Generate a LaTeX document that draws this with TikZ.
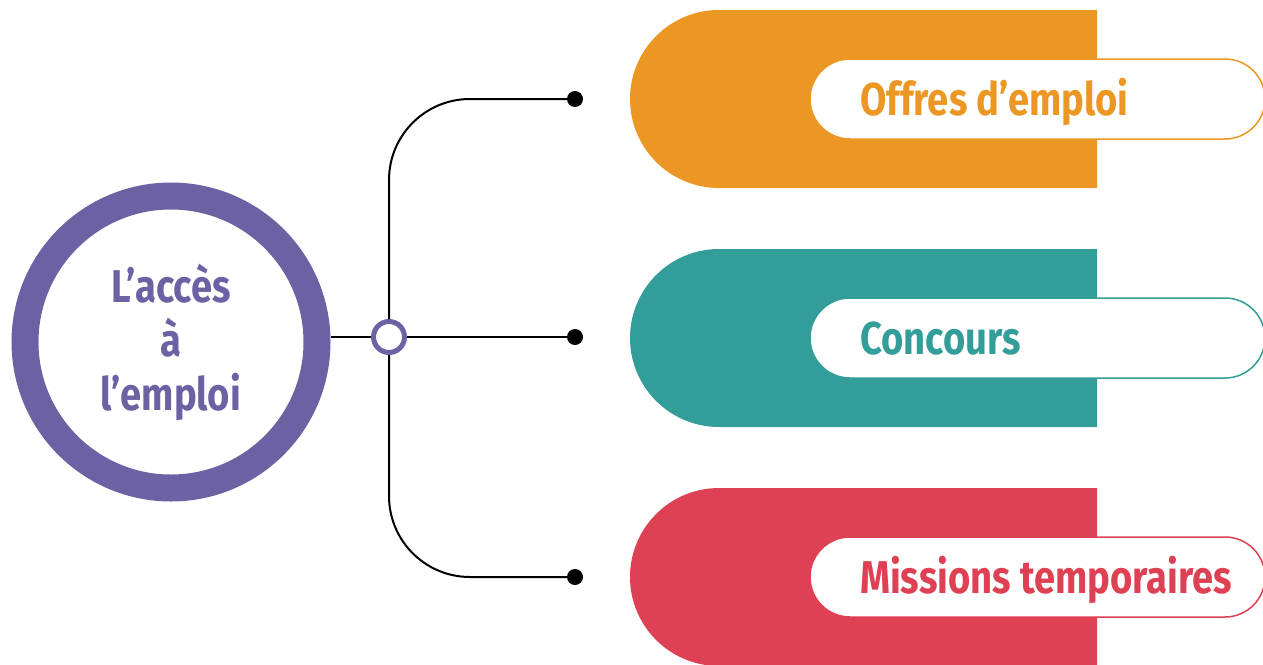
\documentclass[tikz,border=0pt]{standalone}
\usepackage{fontspec}
\setmainfont{Fira Sans}
\newfontfamily\labfont[FakeStretch=0.83]{Fira Sans}
\definecolor{purp}{RGB}{108,98,163}
\definecolor{orng}{RGB}{236,151,36}
\definecolor{teal1}{RGB}{51,157,153}
\definecolor{red1}{RGB}{222,65,83}
\tikzset{
  conn/.style={black,line width=2pt},
  enddot/.style={circle,fill=black,minimum size=16pt,inner sep=0pt},
  lbl/.style={anchor=base west,inner sep=0pt,font=\labfont\bfseries\fontsize{46}{54}\selectfont},
}
\newcommand{\band}[3]{% y-center, colour, text
  \fill[#2] (1097,#1-89) -- (719,#1-89) arc[start angle=-90,end angle=-270,radius=89] -- (1097,#1+89) -- cycle;
  \draw[draw=#2,line width=1.5pt,fill=white] (850,#1-40) -- (1225,#1-40) arc[start angle=-90,end angle=90,radius=40] -- (850,#1+40) arc[start angle=90,end angle=270,radius=40] -- cycle;
  \node[lbl,text=#2] at (860,#1+16) {#3};
}
\begin{document}
\begin{tikzpicture}[x=1pt,y=-1pt]
\useasboundingbox (0,0) rectangle (1263,664);
\band{99}{orng}{Offres d’emploi}
\band{338}{teal1}{Concours}
\band{577}{red1}{Missions temporaires}
\node[circle,draw=purp,line width=27pt,minimum size=292pt,inner sep=0pt,align=center,text=purp,
  font=\labfont\bfseries\fontsize{46}{54}\selectfont] (main) at (171,342) {L’accès\\à\\l’emploi};
\node[circle,draw=purp,fill=white,line width=5pt,minimum size=31pt,inner sep=0pt] (j) at (389,337) {};
\node[enddot] (d1) at (575,99) {};
\node[enddot] (d2) at (575,337) {};
\node[enddot] (d3) at (575,577) {};
\draw[conn,line width=2.5pt] (j.west) -- (j.west -| main.east);
\draw[conn] (j.east) -- (d2);
\draw[conn,rounded corners=81pt] (j.north) |- (d1);
\draw[conn,rounded corners=81pt] (j.south) |- (d3);
\end{tikzpicture}
\end{document}
